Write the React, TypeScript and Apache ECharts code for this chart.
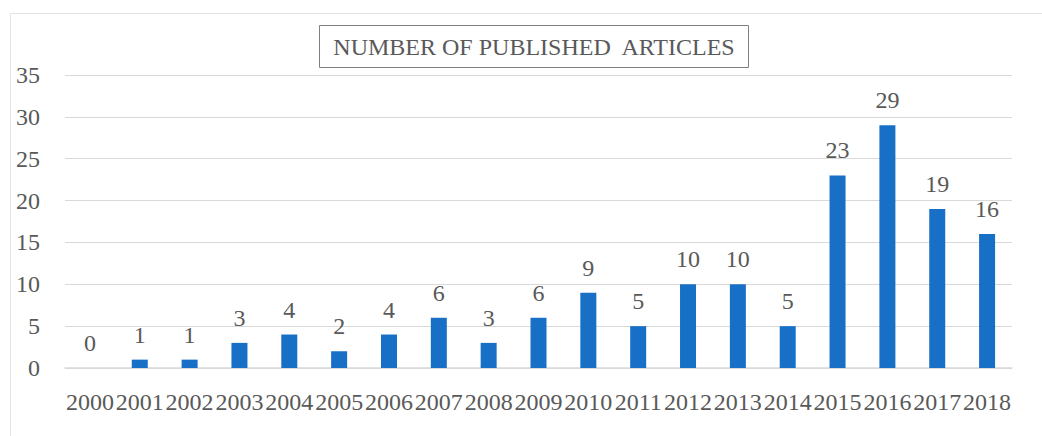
import React, { useEffect, useRef } from "react";
import * as echarts from "echarts";

const years = ["2000","2001","2002","2003","2004","2005","2006","2007","2008","2009","2010","2011","2012","2013","2014","2015","2016","2017","2018"];
const articles = [0,1,1,3,4,2,4,6,3,6,9,5,10,10,5,23,29,19,16];
const titleText = "NUMBER OF PUBLISHED  ARTICLES";

const FONT = "'Liberation Serif', 'DejaVu Serif', serif";
const GREY = "#595959";

export default function App() {
  const ref = useRef<HTMLDivElement>(null);
  useEffect(() => {
    if (!ref.current) return;
    const chart = echarts.init(ref.current, null, { renderer: "svg" });
    chart.setOption({
      animation: false,
      backgroundColor: "#ffffff",
      textStyle: { fontFamily: FONT },
      grid: { left: 65, right: 30, top: 75, bottom: 68, containLabel: false },
      graphic: [
        {
          type: "rect",
          shape: { x: 10.5, y: 13.5, width: 1040, height: 440 },
          style: { fill: "none", stroke: "#e3e3e3", lineWidth: 1 },
          silent: true,
        },
        {
          type: "rect",
          shape: { x: 319.5, y: 25.5, width: 429, height: 42 },
          style: { fill: "#ffffff", stroke: "#7f7f7f", lineWidth: 1 },
          silent: true,
        },
        {
          type: "text",
          x: 534,
          y: 47,
          style: {
            text: titleText,
            fill: GREY,
            font: `24px ${FONT}`,
            textAlign: "center",
            textVerticalAlign: "middle",
          },
          silent: true,
        },
      ],
      xAxis: {
        type: "category",
        data: years,
        axisTick: { show: false },
        axisLine: { lineStyle: { color: "#d9d9d9", width: 1.5 } },
        axisLabel: { interval: 0, color: GREY, fontSize: 24, fontFamily: FONT, margin: 22 },
      },
      yAxis: {
        type: "value",
        min: 0,
        max: 35,
        interval: 5,
        axisLine: { show: false },
        axisTick: { show: false },
        splitLine: { lineStyle: { color: "#d9d9d9", width: 1 } },
        axisLabel: { color: GREY, fontSize: 24, fontFamily: FONT, margin: 25 },
      },
      series: [
        {
          type: "bar",
          data: articles,
          barWidth: 16,
          itemStyle: { color: "#1770C6" },
          label: {
            show: true,
            position: "top",
            distance: 13,
            color: GREY,
            fontSize: 24,
            fontFamily: FONT,
          },
        },
      ],
    });
    return () => chart.dispose();
  }, []);
  return (
    <div
      ref={ref}
      style={{ position: "fixed", left: 0, top: 0, width: 1042, height: 436 }}
    />
  );
}
